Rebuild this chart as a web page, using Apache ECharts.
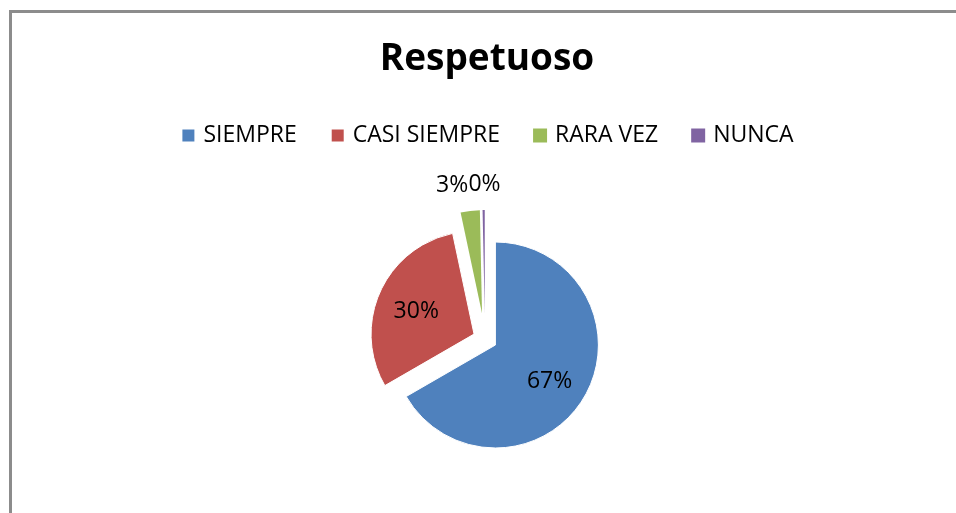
<!DOCTYPE html>
<html>
<head>
<meta charset="utf-8">
<script src="https://cdn.jsdelivr.net/npm/echarts@6/dist/echarts.min.js"></script>
<style>
  html, body { margin: 0; padding: 0; background: #fff; overflow: hidden; }
  .frame {
    position: absolute; left: 9px; top: 10px; width: 980px; height: 540px;
    border: 3px solid #8c8c8c; box-sizing: border-box;
  }
  #chart { position: absolute; left: 10px; top: 10px; width: 954px; height: 503px; }
</style>
</head>
<body>
<div class="frame"></div>
<div id="chart"></div>
<script>
// datos
const categories = ['SIEMPRE', 'CASI SIEMPRE', 'RARA VEZ', 'NUNCA']
const values = [200, 90, 9, 1]
const colors = ['#4f81bd', '#c0504d', '#9bbb59', '#8064a2']

const myChart = echarts.init(document.getElementById('chart'))

// las porciones pequeñas (RARA VEZ, NUNCA) están más separadas del centro,
// así que se dibujan en una segunda serie con otro selectedOffset
const isSmall = i => i >= 2

function buildData(showSmall) {
  return categories.map((name, i) => {
    const visible = isSmall(i) === showSmall
    return {
      name: name,
      value: values[i],
      selected: true,
      itemStyle: visible
        ? { color: colors[i], borderColor: '#fff', borderWidth: showSmall ? 0 : 1 }
        : { color: 'rgba(0,0,0,0)', borderWidth: 0 },
      label: visible
        ? { show: true, position: showSmall ? 'outside' : 'inside' }
        : { show: false }
    }
  })
}

const basePie = {
  type: 'pie',
  center: [475, 329],
  radius: 103,
  startAngle: 90,
  clockwise: true,
  selectedMode: 'multiple',
  avoidLabelOverlap: false,
  emphasis: { disabled: true },
  label: {
    fontFamily: 'Open Sans',
    fontSize: 23,
    color: '#000',
    formatter: p => Math.round(p.percent) + '%'
  }
}

const options = {
  animation: false,
  title: {
    text: 'Respetuoso',
    left: 'center',
    top: 26,
    textStyle: {
      fontFamily: 'Open Sans',
      fontWeight: 'bold',
      fontSize: 37,
      color: '#000'
    }
  },
  legend: {
    data: categories.map((name, i) => ({ name: name, itemStyle: { color: colors[i] } })),
    left: 'center',
    top: 109,
    icon: 'rect',
    itemWidth: 14,
    itemHeight: 14,
    itemGap: 33,
    selectedMode: false,
    textStyle: {
      fontFamily: 'Open Sans',
      fontSize: 23,
      color: '#000',
      padding: [0, 0, 0, 3]
    }
  },
  series: [
    Object.assign({}, basePie, {
      selectedOffset: 12,
      labelLine: { show: false },
      labelLayout: function (p) {
        if (p.dataIndex === 0) return { dx: 7, dy: 9 }
        if (p.dataIndex === 1) return { dx: -8 }
        return {}
      },
      data: buildData(false)
    }),
    Object.assign({}, basePie, {
      selectedOffset: 26,
      labelLine: { show: false, length: 26, length2: 0 },
      labelLayout: function (p) {
        if (p.dataIndex === 3) return { align: 'left', dx: -10 }
        if (p.dataIndex === 2) return { dx: 6 }
        return {}
      },
      data: buildData(true)
    })
  ]
}
myChart.setOption(options)
</script>
</body>
</html>
